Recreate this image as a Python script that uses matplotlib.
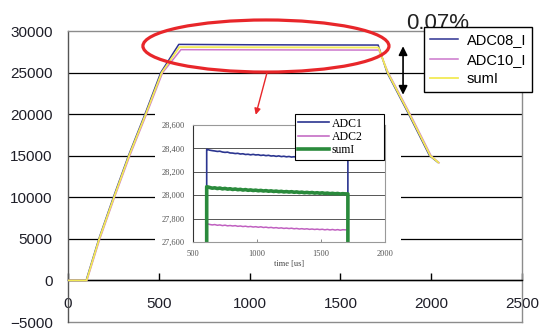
import numpy as np
import matplotlib
matplotlib.use("Agg")
import matplotlib.pyplot as plt
from matplotlib.patches import Ellipse, Rectangle

# ---------------- data ----------------
# main chart (time in us, value in counts)
adc08_t = [0, 100, 170, 250, 333, 424, 511, 610, 1000, 1400, 1708, 1757, 1876, 1991, 2037]
adc08_v = [0, 0, 5000, 10000, 15000, 20000, 25000, 28390, 28345, 28320, 28310,
           25000, 20000, 15000, 14200]
adc10_t = [0, 104, 175, 256, 340, 432, 521, 622, 1000, 1400, 1712, 1763, 1884, 1999, 2043]
adc10_v = [0, 0, 5000, 10000, 15000, 20000, 25000, 27755, 27735, 27715, 27705,
           25000, 20000, 15000, 14150]
sumi_t = [0, 102, 172, 253, 336, 428, 516, 614, 1000, 1400, 1710, 1760, 1880, 1995, 2040]
sumi_v = [0, 0, 5000, 10000, 15000, 20000, 25000, 28070, 28040, 28025, 28010,
          25000, 20000, 15000, 14180]

main_labels = ["ADC08_I", "ADC10_I", "sumI"]
main_xticks = [0, 500, 1000, 1500, 2000, 2500]
main_yticks = [-5000, 0, 5000, 10000, 15000, 20000, 25000, 30000]

# inset: flat-top detail (samples every 20 us from 610 to 1690)
inset_grid = list(range(610, 1691, 20))
inset_rise_t = 607
inset_fall_t = 1710
inset_base = 27000
adc1_vals = [28392, 28385, 28381, 28378, 28374, 28376, 28369, 28366, 28368, 28361, 28360,
             28356, 28358, 28352, 28354, 28348, 28350, 28345, 28349, 28344, 28346, 28340,
             28343, 28338, 28341, 28335, 28337, 28332, 28336, 28330, 28333, 28328, 28331,
             28326, 28329, 28324, 28327, 28322, 28325, 28320, 28323, 28318, 28321, 28316,
             28319, 28315, 28318, 28313, 28316, 28311, 28314, 28310, 28313, 28308, 28311]
adc2_vals = [27756, 27750, 27746, 27749, 27743, 27746, 27740, 27744, 27738, 27741, 27737,
             27740, 27734, 27737, 27732, 27735, 27730, 27733, 27728, 27731, 27726, 27730,
             27724, 27727, 27722, 27725, 27720, 27723, 27718, 27721, 27716, 27719, 27715,
             27718, 27713, 27716, 27711, 27714, 27710, 27713, 27708, 27711, 27707, 27710,
             27706, 27709, 27704, 27708, 27703, 27707, 27702, 27706, 27701, 27705, 27704]
sumi_vals = [28072, 28066, 28060, 28063, 28057, 28061, 28054, 28058, 28052, 28055, 28049,
             28053, 28047, 28050, 28044, 28048, 28042, 28045, 28040, 28043, 28038, 28041,
             28036, 28039, 28034, 28037, 28032, 28035, 28030, 28033, 28028, 28031, 28027,
             28030, 28025, 28028, 28023, 28026, 28021, 28024, 28020, 28023, 28018, 28021,
             28017, 28020, 28015, 28018, 28013, 28016, 28012, 28015, 28010, 28013, 28011]
inset_labels = ["ADC1", "ADC2", "sumI"]
inset_xticks = [500, 1000, 1500, 2000]
inset_yticks = [27600, 27800, 28000, 28200, 28400, 28600]

note_text = "0.07%"

# ---------------- figure ----------------
W, H = 542, 329
fig = plt.figure(figsize=(W / 100, H / 100), dpi=100)
fig.patch.set_facecolor("white")

def fx(px):
    return px / W

def fy(py):
    return 1 - py / H

ax = fig.add_axes([fx(68), fy(322), fx(522) - fx(68), fy(31) - fy(322)])
ax.set_xlim(0, 2500)
ax.set_ylim(-5000, 30000)

navy = "#2e3192"
orchid = "#cc77cc"
yellow = "#f2ea55"

ax.plot(adc08_t, adc08_v, color=navy, lw=1.1, label=main_labels[0], zorder=3)
ax.plot(adc10_t, adc10_v, color=orchid, lw=1.1, label=main_labels[1], zorder=3)
ax.plot(sumi_t, sumi_v, color=yellow, lw=1.3, label=main_labels[2], zorder=4)

ax.set_xticks(main_xticks)
ax.set_yticks(main_yticks)
ax.grid(axis="y", color="black", lw=0.9)
gl = ax.get_ygridlines()
gl[0].set_visible(False)
gl[-1].set_visible(False)
ax.set_axisbelow(True)

for s in ["top", "right", "left"]:
    ax.spines[s].set_color("#8c8c8c")
    ax.spines[s].set_linewidth(1.0)
ax.spines["left"].set_color("#555555")
ax.spines["bottom"].set_position(("data", 0))
ax.spines["bottom"].set_color("black")
ax.spines["bottom"].set_linewidth(1.0)
ax.plot([0, 1], [0, 0], transform=ax.transAxes, color="#8c8c8c", lw=1.0, clip_on=False)

ax.tick_params(axis="x", direction="in", length=5, width=1, pad=12, colors="black",
               labelcolor="#1e1e28")
ax.tick_params(axis="y", length=0, pad=11, labelcolor="#1e1e28")
for lab in ax.get_xticklabels() + ax.get_yticklabels():
    lab.set_fontfamily("Liberation Sans")
    lab.set_fontsize(11)

leg = ax.legend(loc="upper left", bbox_to_anchor=(0.784, 1.0137), borderaxespad=0,
                frameon=True, fancybox=False, edgecolor="black", framealpha=1,
                prop=dict(family="Liberation Sans", size=10.5),
                handlelength=1.9, handletextpad=0.6, labelspacing=0.38, borderpad=0.42)
leg.get_frame().set_linewidth(1.0)
leg.set_zorder(10)

# white backing behind the inset chart (hides main gridlines there)
ax.add_patch(Rectangle((479, 843), 1355, 19640, facecolor="white", edgecolor="none",
                       zorder=2.5))

# annotations on main chart
ax.add_patch(Ellipse((1090, 28193), 1355, 6265, fill=False, edgecolor="#e8262a", lw=2.3,
                     zorder=6, clip_on=False))
ax.annotate("", xy=(1030, 19600), xytext=(1101, 25400),
            arrowprops=dict(arrowstyle="-|>", color="#e8262a", lw=1.0, mutation_scale=9),
            zorder=6, annotation_clip=False)
ax.annotate("", xy=(1845, 28500), xytext=(1845, 22000),
            arrowprops=dict(arrowstyle="<|-|>", color="black", lw=1.2, mutation_scale=13),
            zorder=6, annotation_clip=False)
ax.text(1862, 30950, note_text, fontsize=16, family="Liberation Sans", color="#222222",
        va="center", ha="left", clip_on=False, zorder=7)

# ---------------- inset ----------------
ix = fig.add_axes([fx(193), fy(242), fx(385) - fx(193), fy(125) - fy(242)])
ix.set_zorder(2)
ix.set_xlim(500, 2000)
ix.set_ylim(27600, 28600)

def edge_series(vals):
    t = [inset_rise_t, inset_rise_t] + inset_grid + [inset_fall_t, inset_fall_t]
    v = [inset_base, vals[0]] + vals + [vals[-1], inset_base]
    return t, v

t1, v1 = edge_series(adc1_vals)
t2, v2 = edge_series(adc2_vals)
t3, v3 = edge_series(sumi_vals)
ix.plot(t1, v1, color="#2b3590", lw=1.2, label=inset_labels[0])
ix.plot(t2, v2, color="#c060c0", lw=1.1, label=inset_labels[1])
ix.plot(t3, v3, color="#2a8a3c", lw=2.6, label=inset_labels[2])

ix.set_xticks(inset_xticks)
ix.set_yticks(inset_yticks)
ix.set_yticklabels([f"{v:,}" for v in inset_yticks])
ix.grid(axis="y", color="#555555", lw=0.7)
igl = ix.get_ygridlines()
igl[0].set_visible(False)
igl[-1].set_visible(False)
ix.set_axisbelow(True)
for s in ["top", "right", "bottom"]:
    ix.spines[s].set_color("#999999")
    ix.spines[s].set_linewidth(0.8)
ix.spines["left"].set_color("#333333")
ix.spines["left"].set_linewidth(0.8)
ix.tick_params(axis="x", direction="in", length=2.5, width=0.6, pad=6, colors="#777777",
               labelcolor="#555555", labelsize=6)
ix.tick_params(axis="y", length=0, pad=6, labelcolor="#555555", labelsize=6)
for lab in ix.get_xticklabels() + ix.get_yticklabels():
    lab.set_fontfamily("Liberation Serif")
ix.set_xlabel("time [us]", fontsize=6, family="Liberation Serif", color="#444444", labelpad=1)

ileg = ix.legend(loc="upper left", bbox_to_anchor=(0.531, 0.744, 0.463, 0.35),
                 mode="expand", borderaxespad=0,
                 frameon=True, fancybox=False, edgecolor="black", framealpha=1,
                 prop=dict(family="Liberation Serif", size=8.5),
                 handlelength=2.6, handletextpad=0.2, labelspacing=0.12, borderpad=0.3)
ileg.get_frame().set_linewidth(0.8)

fig.savefig("out.png", dpi=100, facecolor="white")
